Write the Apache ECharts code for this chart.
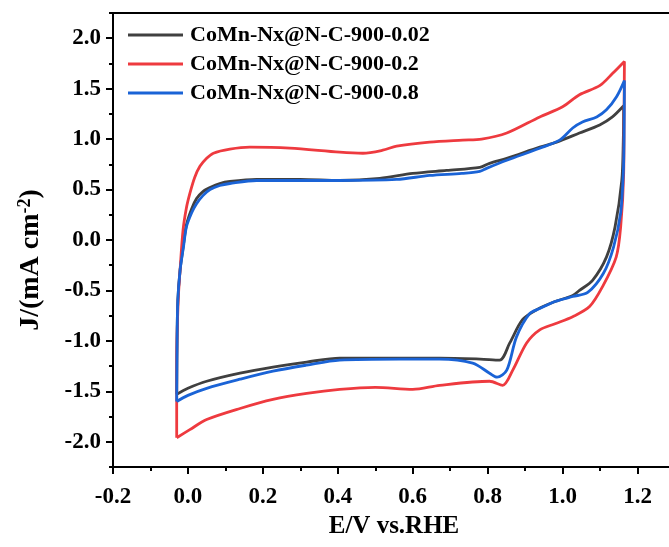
<!DOCTYPE html>
<html>
<head>
<meta charset="utf-8">
<script src="https://cdn.jsdelivr.net/npm/echarts@6/dist/echarts.min.js"></script>
<style>
html,body{margin:0;padding:0;background:#fff;}
#c{width:669px;height:547px;}
</style>
</head>
<body>
<div id="c"></div>
<script>
// ---- data (E / V vs. RHE, J / mA cm^-2), each loop traced around the CV ----
const seriesNames = ['CoMn-Nx@N-C-900-0.02', 'CoMn-Nx@N-C-900-0.2', 'CoMn-Nx@N-C-900-0.8'];
const seriesColors = ['#404040', '#ee3a3f', '#1a63d6'];

const cv002 = [
  [-0.03,-1.53],[-0.029,-1.0],[-0.027,-0.6],[-0.021,-0.3],[-0.012,-0.05],[-0.004,0.15],[0.01,0.31],[0.023,0.41],[0.04,0.48],[0.059,0.52],[0.085,0.56],[0.112,0.58],[0.183,0.60],[0.30,0.60],[0.405,0.59],[0.512,0.61],[0.60,0.66],[0.69,0.69],[0.779,0.72],[0.805,0.76],[0.851,0.81],[0.939,0.92],[0.984,0.97],[1.045,1.06],[1.099,1.14],[1.133,1.22],[1.163,1.33],
  [1.162,0.99],[1.158,0.59],[1.14,0.13],[1.117,-0.17],[1.08,-0.40],[1.045,-0.50],[1.027,-0.55],[0.98,-0.61],[0.931,-0.69],[0.893,-0.79],[0.859,-1.02],[0.832,-1.19],[0.78,-1.18],[0.672,-1.17],[0.55,-1.17],[0.405,-1.17],[0.317,-1.21],[0.227,-1.26],[0.139,-1.32],[0.05,-1.40],[0.0,-1.47],[-0.03,-1.53]
];
const cv02 = [
  [-0.03,-1.96],[-0.03,-1.2],[-0.026,-0.6],[-0.021,-0.3],[-0.013,0.10],[-0.004,0.32],[0.005,0.46],[0.018,0.62],[0.032,0.73],[0.05,0.81],[0.068,0.86],[0.112,0.90],[0.165,0.92],[0.272,0.91],[0.405,0.87],[0.467,0.86],[0.52,0.89],[0.557,0.93],[0.645,0.97],[0.733,0.99],[0.784,1.00],[0.851,1.06],[0.939,1.22],[1.0,1.32],[1.045,1.44],[1.099,1.53],[1.133,1.65],[1.165,1.77],
  [1.164,1.2],[1.163,0.66],[1.155,0.13],[1.143,-0.17],[1.107,-0.46],[1.072,-0.66],[1.027,-0.76],[0.98,-0.83],[0.939,-0.89],[0.904,-1.02],[0.867,-1.29],[0.84,-1.44],[0.805,-1.40],[0.672,-1.44],[0.60,-1.48],[0.50,-1.46],[0.405,-1.48],[0.317,-1.52],[0.227,-1.58],[0.139,-1.67],[0.05,-1.78],[0.005,-1.88],[-0.03,-1.96]
];
const cv08 = [
  [-0.03,-1.60],[-0.029,-1.0],[-0.027,-0.6],[-0.021,-0.3],[-0.012,-0.07],[-0.004,0.13],[0.01,0.27],[0.023,0.36],[0.04,0.44],[0.059,0.50],[0.085,0.54],[0.112,0.56],[0.183,0.59],[0.30,0.59],[0.405,0.59],[0.557,0.60],[0.645,0.64],[0.731,0.66],[0.779,0.68],[0.797,0.71],[0.851,0.79],[0.939,0.91],[0.992,0.99],[1.027,1.11],[1.053,1.17],[1.091,1.22],[1.117,1.29],[1.144,1.42],[1.165,1.58],
  [1.164,1.0],[1.162,0.66],[1.155,0.27],[1.136,-0.07],[1.109,-0.33],[1.067,-0.52],[1.027,-0.56],[0.98,-0.61],[0.939,-0.68],[0.912,-0.73],[0.877,-0.96],[0.851,-1.29],[0.825,-1.36],[0.805,-1.32],[0.76,-1.22],[0.672,-1.18],[0.565,-1.18],[0.405,-1.19],[0.317,-1.24],[0.227,-1.30],[0.139,-1.38],[0.05,-1.47],[0.0,-1.54],[-0.03,-1.60]
];

const yTicks = [-2.0,-1.5,-1.0,-0.5,0.0,0.5,1.0,1.5,2.0];
const yMinorTicks = [-2.25,-1.75,-1.25,-0.75,-0.25,0.25,0.75,1.25,1.75,2.25];
const xRange = [-0.2, 1.3];
const yRange = [-2.25, 2.25];

// ---- chart ----
const FONT = '"Liberation Serif", "Times New Roman", serif';
const chart = echarts.init(document.getElementById('c'), null, {renderer: 'canvas'});
const dataSets = [cv002, cv02, cv08];

chart.setOption({
  animation: false,
  backgroundColor: '#fff',
  grid: {
    left: 113, right: -6, top: 13, bottom: 80,
    show: true, borderColor: '#000', borderWidth: 2,
    outerBoundsMode: 'none', containLabel: false
  },
  legend: {
    orient: 'vertical',
    left: 123, top: 19,
    icon: 'rect',
    itemWidth: 55, itemHeight: 3, itemGap: 7,
    textStyle: {fontFamily: FONT, fontWeight: 'bold', fontSize: 22, color: '#000', lineHeight: 22, padding: [0,0,0,2]},
    data: seriesNames
  },
  xAxis: {
    type: 'value', min: xRange[0], max: xRange[1], interval: 0.2,
    name: 'E/V vs.RHE', nameLocation: 'middle', nameGap: 43,
    nameTextStyle: {fontFamily: FONT, fontWeight: 'bold', fontSize: 25, color: '#000'},
    axisLine: {show: true, onZero: false, lineStyle: {color: '#000', width: 2}},
    axisTick: {show: true, inside: false, length: 7, lineStyle: {color: '#000', width: 2}},
    minorTick: {show: true, splitNumber: 2, length: 4, lineStyle: {color: '#000', width: 2}},
    splitLine: {show: false},
    axisLabel: {fontFamily: FONT, fontWeight: 'bold', fontSize: 23, color: '#000', margin: 19,
      showMaxLabel: false, formatter: v => v.toFixed(1)}
  },
  yAxis: [{
    type: 'value', min: yRange[0], max: yRange[1],
    name: 'J/(mA cm{sup|-2})', nameLocation: 'middle', nameGap: 67, nameRotate: 90,
    nameTextStyle: {fontFamily: FONT, fontWeight: 'bold', fontSize: 28, color: '#000', padding: [0, 40, 0, 0],
      rich: {sup: {fontFamily: FONT, fontWeight: 'bold', fontSize: 18, color: '#000', verticalAlign: 'top', padding: [0,0,12,0]}}},
    axisLine: {show: true, onZero: false, lineStyle: {color: '#000', width: 2}},
    axisTick: {show: true, inside: false, length: 7, customValues: yTicks, lineStyle: {color: '#000', width: 2}},
    splitLine: {show: false},
    axisLabel: {fontFamily: FONT, fontWeight: 'bold', fontSize: 23, color: '#000', margin: 12,
      customValues: yTicks, formatter: v => v.toFixed(1)}
  }, {
    type: 'value', min: yRange[0], max: yRange[1], position: 'left',
    axisLine: {show: false, onZero: false},
    axisTick: {show: true, inside: false, length: 4, customValues: yMinorTicks, lineStyle: {color: '#000', width: 2}},
    axisLabel: {show: false},
    splitLine: {show: false}
  }],
  series: dataSets.map((d, i) => ({
    name: seriesNames[i],
    type: 'line',
    data: d,
    yAxisIndex: 0,
    smooth: 0.3,
    symbol: 'none',
    color: seriesColors[i],
    lineStyle: {width: 2.8, color: seriesColors[i]},
    z: 2 + i
  }))
});
</script>
</body>
</html>
